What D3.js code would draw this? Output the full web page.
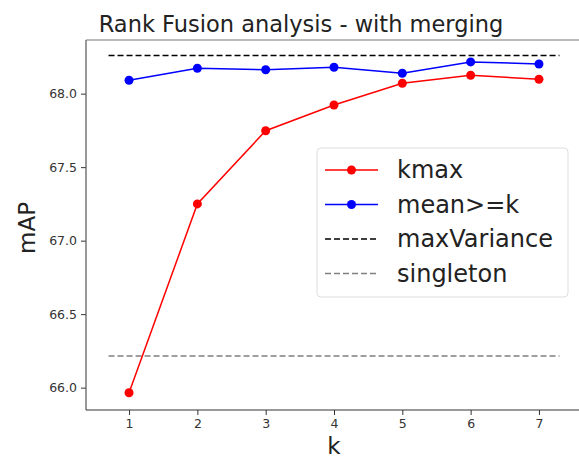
<!DOCTYPE html>
<html><head><meta charset="utf-8">
<script src="https://cdn.jsdelivr.net/npm/d3@7"></script>
<style>body{margin:0;background:#fff}svg{display:block}text{font-family:"DejaVu Sans",sans-serif}</style>
</head><body>
<svg id="c" width="579" height="458"></svg>
<script>
const ks = [1, 2, 3, 4, 5, 6, 7];
const kmax = [65.965, 67.25, 67.748, 67.923, 68.071, 68.125, 68.098];
const meanGeK = [68.091, 68.173, 68.163, 68.18, 68.139, 68.216, 68.202];
const maxVariance = 68.259;
const singleton = 66.216;
const yTicks = [66.0, 66.5, 67.0, 67.5, 68.0];
const xTicks = [1, 2, 3, 4, 5, 6, 7];
const legendLabels = ["kmax", "mean>=k", "maxVariance", "singleton"];

const svg = d3.select("#c");
const L = 86, T = 40, R = 582, B = 410;
const x = d3.scaleLinear().domain([0.37, 7.63]).range([L, R]);
const y = d3.scaleLinear().domain([65.848, 68.365]).range([B, T]);

// horizontal reference lines
svg.append("line").attr("x1", x(0.7)).attr("x2", x(7.3))
  .attr("y1", y(maxVariance)).attr("y2", y(maxVariance))
  .attr("stroke", "#000").attr("stroke-width", 1.5).attr("stroke-dasharray", "6,3");
svg.append("line").attr("x1", x(0.7)).attr("x2", x(7.3))
  .attr("y1", y(singleton)).attr("y2", y(singleton))
  .attr("stroke", "#808080").attr("stroke-width", 1.5).attr("stroke-dasharray", "6,3");

function series(vals, color) {
  const line = d3.line().x((d, i) => x(ks[i])).y(d => y(d));
  svg.append("path").datum(vals).attr("d", line).attr("fill", "none")
    .attr("stroke", color).attr("stroke-width", 1.5);
  svg.selectAll(null).data(vals).enter().append("circle")
    .attr("cx", (d, i) => x(ks[i])).attr("cy", d => y(d)).attr("r", 4.5).attr("fill", color);
}
series(kmax, "#ff0000");
series(meanGeK, "#0000ff");

// axes
const yAxis = d3.axisLeft(y).tickValues(yTicks).tickFormat(d3.format(".1f")).tickSize(5).tickPadding(4);
const gy = svg.append("g").attr("transform", `translate(${L},0)`).call(yAxis);
const xAxis = d3.axisBottom(x).tickValues(xTicks).tickFormat(d3.format("d")).tickSize(5).tickPadding(4);
const gx = svg.append("g").attr("transform", `translate(0,${B})`).call(xAxis);
[gx, gy].forEach(g => {
  g.select(".domain").remove();
  g.selectAll("line").attr("stroke", "#333");
  g.selectAll("text").attr("fill", "#333").style("font-size", "12.5px").style("font-family", "DejaVu Sans");
});
svg.append("line").attr("x1", L).attr("x2", L).attr("y1", T).attr("y2", B).attr("stroke", "#555").attr("stroke-width", 1.2);
svg.append("line").attr("x1", L).attr("x2", R).attr("y1", B).attr("y2", B).attr("stroke", "#333").attr("stroke-width", 1.2);
svg.append("line").attr("x1", L).attr("x2", R).attr("y1", T).attr("y2", T).attr("stroke", "#777").attr("stroke-width", 1.2);

// labels
svg.append("text").attr("x", 301).attr("y", 32).attr("text-anchor", "middle")
  .style("font-size", "22.5px").attr("fill", "#222").text("Rank Fusion analysis - with merging");
svg.append("text").attr("transform", `translate(35,228) rotate(-90)`).attr("text-anchor", "middle")
  .style("font-size", "23px").attr("fill", "#222").text("mAP");
svg.append("text").attr("x", x(4)).attr("y", 454).attr("text-anchor", "middle")
  .style("font-size", "23px").attr("fill", "#222").text("k");

// legend
const lg = svg.append("g").attr("transform", "translate(317,148)");
lg.append("rect").attr("width", 251).attr("height", 149).attr("rx", 4)
  .attr("fill", "#fff").attr("fill-opacity", 0.8).attr("stroke", "#ddd");
const styles = [
  {c: "#ff0000", dash: null, m: true},
  {c: "#0000ff", dash: null, m: true},
  {c: "#000", dash: "6,3", m: false},
  {c: "#808080", dash: "6,3", m: false}
];
legendLabels.forEach((lab, i) => {
  const cy = 22 + i * 34.5;
  const s = styles[i];
  lg.append("line").attr("x1", 8).attr("x2", 61).attr("y1", cy).attr("y2", cy)
    .attr("stroke", s.c).attr("stroke-width", 1.5).attr("stroke-dasharray", s.dash);
  if (s.m) lg.append("circle").attr("cx", 34.5).attr("cy", cy).attr("r", 4.5).attr("fill", s.c);
  lg.append("text").attr("x", 80).attr("y", cy + 8).style("font-size", "24px").attr("fill", "#222").text(lab);
});
</script>
</body></html>
